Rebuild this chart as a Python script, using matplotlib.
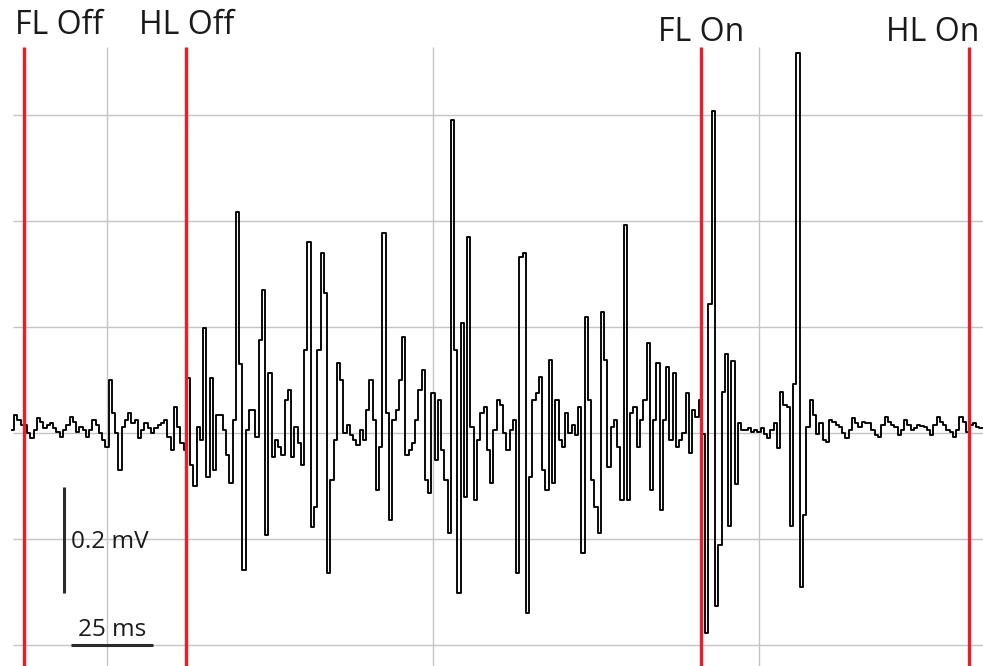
import numpy as np
import matplotlib
matplotlib.use("Agg")
import matplotlib.pyplot as plt

# EMG trace, mV, sampled every 1 ms starting at t0 (ms)
t0 = -29
emg_mv = [
    0.006, 0.034, 0.025, 0.015, 0.015, 0.000, -0.009, 0.006, 0.028, 0.021,
    0.009, 0.015, 0.019, 0.009, 0.002, -0.008, 0.006, 0.015, 0.030, 0.021,
    0.002, 0.011, 0.006, -0.008, 0.006, 0.025, 0.015, 0.000, -0.013, -0.026,
    0.100, 0.038, 0.000, -0.070, 0.011, 0.025, 0.038, 0.019, 0.025, -0.009,
    0.006, 0.019, 0.009, 0.000, 0.009, 0.015, 0.019, 0.025, -0.008, -0.032,
    0.049, 0.011, -0.019, -0.032, 0.104, -0.060, -0.100, 0.011, -0.013, 0.198,
    -0.083, 0.104, -0.070, 0.034, 0.034, 0.006, -0.042, -0.094, 0.025, 0.417,
    0.130, -0.258, 0.006, 0.043, 0.043, -0.008, 0.175, 0.270, -0.192, 0.113,
    -0.045, -0.013, -0.026, -0.042, 0.062, 0.081, -0.045, 0.011, -0.019, -0.060,
    0.157, 0.360, -0.177, -0.140, 0.157, 0.340, 0.264, -0.264, -0.089, -0.013,
    0.132, 0.100, 0.000, 0.015, -0.004, -0.013, -0.023, 0.006, -0.013, 0.043,
    0.100, 0.025, -0.108, -0.026, 0.377, 0.038, -0.164, 0.025, 0.043, 0.100,
    0.181, -0.042, -0.032, -0.019, 0.025, 0.081, 0.119, -0.089, -0.113, 0.075,
    -0.051, 0.062, -0.032, -0.089, -0.189, 0.590, 0.157, -0.302, 0.208, -0.121,
    0.370, 0.011, -0.126, -0.013, 0.038, 0.049, -0.032, -0.094, 0.006, 0.062,
    0.053, 0.000, -0.032, 0.006, 0.025, -0.264, 0.333, 0.340, -0.340, -0.083,
    0.062, 0.075, 0.106, -0.070, -0.108, 0.138, -0.094, 0.062, -0.013, -0.026,
    0.038, 0.000, 0.015, -0.004, 0.049, -0.226, 0.219, 0.062, -0.089, -0.140,
    -0.189, 0.228, 0.138, -0.064, 0.011, 0.025, -0.026, -0.126, 0.392, -0.126,
    0.038, 0.049, -0.026, 0.025, 0.062, 0.170, -0.108, 0.025, 0.132, -0.145,
    0.025, 0.125, -0.013, 0.113, -0.026, -0.013, 0.000, 0.075, -0.038, 0.043,
    0.030, 0.062, -0.002, -0.377, 0.243, 0.608, -0.326, -0.211, 0.077, 0.149,
    -0.175, 0.136, -0.096, 0.019, 0.006, 0.006, 0.009, 0.002, 0.006, 0.002,
    0.009, -0.002, -0.009, 0.006, 0.019, -0.028, 0.077, 0.053, 0.049, -0.175,
    0.092, 0.717, -0.291, -0.155, 0.011, 0.062, 0.034, -0.002, 0.019, -0.013,
    -0.017, 0.025, 0.021, 0.015, 0.011, 0.000, -0.009, 0.006, 0.028, 0.019,
    0.011, 0.021, 0.019, 0.019, 0.006, -0.004, -0.008, 0.015, 0.030, 0.021,
    0.015, 0.011, -0.004, 0.006, 0.025, 0.015, 0.006, 0.009, 0.015, 0.013,
    0.011, 0.006, -0.004, 0.015, 0.030, 0.021, 0.015, 0.006, 0.002, -0.008,
    0.006, 0.030, 0.021, 0.002, 0.015, 0.019, 0.011, 0.009, 0.009,
]

# Gait events (ms)
event_labels = ["FL Off", "HL Off", "FL On", "HL On"]
event_times = [-25.5, 24.3, 182.2, 264.4]

# Grid lines
grid_times = [0, 100, 200]
grid_mv = [-0.4, -0.2, 0.0, 0.2, 0.4, 0.6]

# Scale bars
scale_mv = 0.2
scale_ms = 25

plt.rcParams["font.family"] = ["Open Sans", "DejaVu Sans"]

fig = plt.figure(figsize=(9.83, 6.66), dpi=100)
ax = fig.add_axes([0, 0, 1, 1])
ax.set_xlim(-32.82, 268.71)
ax.set_ylim(-0.4396, 0.817)
ax.axis("off")

grid_color = "#c4c4c4"
grid_left = -28.8
grid_top = 0.728
for g in grid_mv:
    ax.hlines(g, grid_left, 268.71, color=grid_color, lw=1.0, zorder=1)
for g in grid_times:
    ax.vlines(g, -0.4396, grid_top, color=grid_color, lw=1.0, zorder=1)

t = t0 + np.arange(len(emg_mv))
ax.plot(t, emg_mv, color="black", lw=1.35, drawstyle="steps-mid", zorder=3)

label_offsets = [35, 0, 0, -36]
label_y = [0.768, 0.768, 0.755, 0.755]
for lab, et, off, ly in zip(event_labels, event_times, label_offsets, label_y):
    ax.vlines(et, -0.4396, grid_top, color="#ee1c25", lw=2.4, zorder=4)
    ax.annotate(lab, xy=(et, ly), xytext=(off, 0), textcoords="offset pixels",
                ha="center", va="center", fontsize=23, color="#1a1a1a")

# scale bars
sb_x = -13.2
sb_y0 = -0.302
ax.plot([sb_x, sb_x], [sb_y0, sb_y0 + scale_mv], color="#2b2b2b", lw=2.2,
        solid_capstyle="butt", zorder=5)
ax.text(sb_x + 2.2, sb_y0 + scale_mv / 2 - 0.004, f"{scale_mv} mV", ha="left", va="center",
        fontsize=17.5, color="#1a1a1a")
hb_x0 = -11.0
hb_y = -0.4
ax.plot([hb_x0, hb_x0 + scale_ms], [hb_y, hb_y], color="#2b2b2b", lw=2.2,
        solid_capstyle="butt", zorder=5)
ax.text(hb_x0 + scale_ms / 2, -0.372, f"{scale_ms} ms", ha="center", va="center",
        fontsize=17.5, color="#1a1a1a")

fig.savefig("out.png", dpi=100, facecolor="white")
